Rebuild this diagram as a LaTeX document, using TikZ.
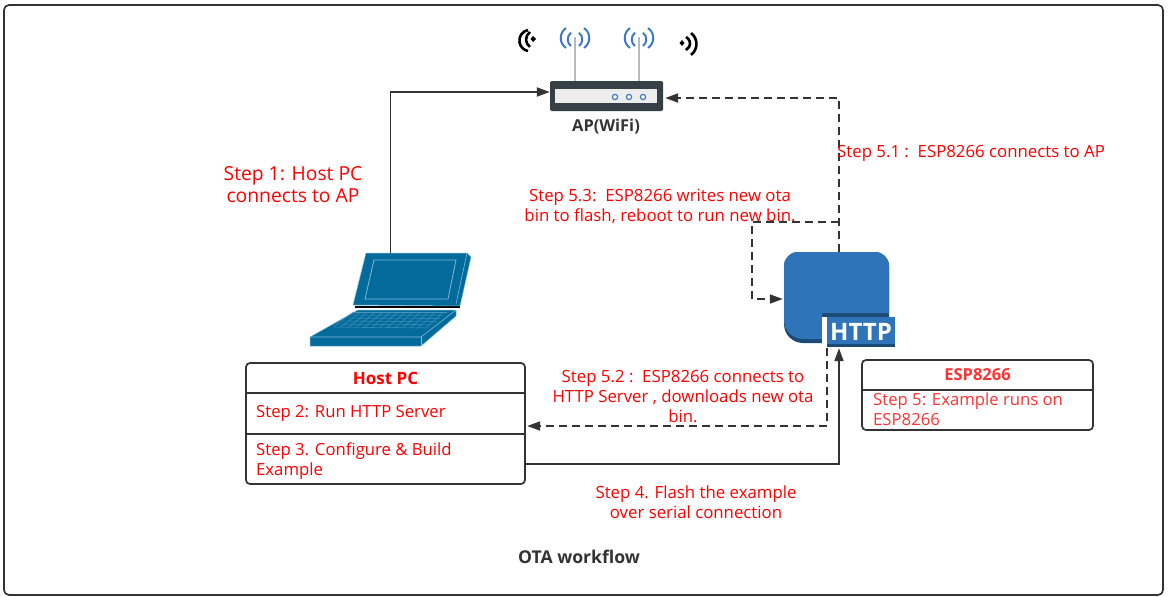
\documentclass[tikz,border=0pt]{standalone}
\usepackage{fontspec}
\setmainfont{Open Sans}
\usetikzlibrary{positioning, calc, arrows.meta}

\definecolor{linegray}{HTML}{333333}
\definecolor{laptopblue}{HTML}{036A9C}
\definecolor{laptopline}{HTML}{7FBBD6}
\definecolor{espblue}{HTML}{2F73B8}
\definecolor{espdark}{HTML}{1A4A75}
\definecolor{routerdark}{HTML}{353F45}
\definecolor{routerlight}{HTML}{ECECEC}
\definecolor{wifiblue}{HTML}{3F78C4}
\definecolor{softred}{HTML}{FF3333}

\tikzset{
  flow/.style={draw=linegray, line width=1.8pt, -{Triangle[length=13pt,width=9pt]}},
  dashflow/.style={flow, dash pattern=on 8pt off 5pt},
  stepnote/.style={text=red, font=\fontsize{16.8}{20}\selectfont, align=center, inner sep=0pt},
  rowtext/.style={text=red, font=\fontsize{16.7}{20}\selectfont, align=left, inner sep=0pt, anchor=west},
  outerbox/.style={draw=linegray, line width=1.7pt, rounded corners=4pt, inner sep=0pt},
  rowbox/.style={inner sep=0pt},
  divider/.style={draw=linegray, line width=1.7pt},
  wave/.style={line width=2pt, wifiblue},
  blackwave/.style={line width=2.6pt, black}
}

\begin{document}
\begin{tikzpicture}[x=1pt,y=-1pt]
\useasboundingbox (0,0) rectangle (1170,597);
\fill[white] (0,0) rectangle (1170,597);
\draw[linegray, line width=1.7pt, rounded corners=5pt] (4,5) rectangle (1163,595);

% laptop
\node (laptop) at (390.5,299.5) [minimum width=161pt, minimum height=93pt, inner sep=0pt] {};
\draw[black, line width=1.2pt] (355,307) -- (460,307);
\fill[laptopblue, draw=laptopline, line width=0.5pt] (366,253) -- (467,253) -- (471,257) -- (460,306) -- (353,305) -- cycle;
\draw[laptopline, line width=0.8pt] (374,260) -- (456,260) -- (448,299) -- (365,299) -- cycle;
\draw[laptopline, line width=0.6pt] (467,253) -- (456,304);
\fill[laptopblue, draw=laptopline, line width=0.5pt] (358,310) -- (456,310) -- (456,316) -- (421,346) -- (310,346) -- (310,337) -- cycle;
\draw[laptopline, line width=0.6pt] (310,337) -- (421,337) -- (456,310);
\draw[laptopline, line width=0.6pt] (421,337) -- (421,346);
\coordinate (keyA) at (333,327);
\coordinate (keyB) at (430,328);
\coordinate (keyC) at (447,312);
\coordinate (keyD) at (353,312);
\foreach \t in {0,0.2,0.4,0.6,0.8,1}
  \draw[laptopline!55!laptopblue, line width=0.4pt] ($(keyA)!\t!(keyD)$) -- ($(keyB)!\t!(keyC)$);
\foreach \t in {0,0.08,...,1.01}
  \draw[laptopline!55!laptopblue, line width=0.4pt] ($(keyA)!\t!(keyB)$) -- ($(keyD)!\t!(keyC)$);

% router
\draw[gray!55, line width=1.8pt] (575,37) -- (575,81);
\draw[gray!55, line width=1.8pt] (639,37) -- (639,81);
\node (router) at (606.5,96) [fill=routerdark, rounded corners=1.5pt, minimum width=113pt, minimum height=30pt, inner sep=0pt] {};
\fill[routerlight] (555,89) rectangle (657,103);
\foreach \cx in {615,629,643}
  \draw[wifiblue, line width=1.2pt, fill=white] (\cx,97) circle (2.6pt);
\foreach \ax in {575,639} {
  \draw[wave] (\ax-4,32.7) arc (127:233:8.3pt);
  \draw[wave] (\ax-9,28) arc (124:236:12pt);
  \draw[wave] (\ax+4,32.7) arc (53:-53:8.3pt);
  \draw[wave] (\ax+9,28) arc (56:-56:12pt);
}
\fill[black] (533,36) -- (536,39) -- (533,42) -- (530.5,39) -- cycle;
\draw[blackwave] (530,32) arc (124:236:9pt);
\draw[blackwave] (528,30) arc (101:259:10.7pt);
\fill[black] (682,40) -- (684.5,43) -- (682,46) -- (679.5,43) -- cycle;
\draw[blackwave] (686,37) arc (63:-63:7.3pt);
\draw[blackwave] (691,33) arc (53:-53:13.7pt);
\node (aplabel) at (606,127) [text=linegray, font=\fontsize{16.4}{18}\selectfont\bfseries, inner sep=0pt] {AP(WiFi)};

% esp8266 icon
\node (esp) at (836.5,297.5) [minimum width=105pt, minimum height=91pt, inner sep=0pt] {};
\fill[espdark] (784,266) arc (180:90:14pt) -- (875,252) arc (90:0:14pt) -- (889,318) -- (822,318) -- (822,343) -- (803,343) arc (270:180:19pt) -- cycle;
\fill[espblue] (784,266) arc (180:90:14pt) -- (875,252) arc (90:0:14pt) -- (889,313) -- (822,313) -- (822,339) -- (803,339) arc (270:180:19pt) -- cycle;
\fill[white] (822,317) rectangle (827,343);
\node (http) at (861,332) [fill=espblue, minimum width=68pt, minimum height=30pt, inner sep=0pt, text=white, font=\fontsize{24}{25}\selectfont\bfseries] {HTTP};
\fill[espdark] (827,344) rectangle (895,347);

% host pc box
\node (hostbox) at (385.5,423.5) [outerbox, minimum width=279pt, minimum height=121pt] {};
\node (hostpc) at (385.5,378) [rowbox, minimum width=279pt, minimum height=30pt, text=red, font=\fontsize{17}{20}\selectfont\bfseries] {Host PC};
\node (hostrun) at (385.5,413.5) [rowbox, minimum width=279pt, minimum height=41pt] {};
\node (hostbuild) at (385.5,459) [rowbox, minimum width=279pt, minimum height=50pt] {};
\draw[divider] (hostrun.north west) -- (hostrun.north east);
\draw[divider] (hostbuild.north west) -- (hostbuild.north east);
\node at (256,413) [rowtext] {Step 2: Run HTTP Server};
\node at (256,461) [rowtext] {Step 3. Configure \& Build\\Example};

% esp8266 box
\node (espbox) at (977.5,395) [outerbox, minimum width=231pt, minimum height=70pt] {};
\node (espname) at (977.5,375) [rowbox, minimum width=231pt, minimum height=30pt, text=softred, font=\fontsize{16.5}{20}\selectfont\bfseries] {ESP8266};
\node (esprun) at (977.5,410) [rowbox, minimum width=231pt, minimum height=40pt] {};
\draw[divider] (esprun.north west) -- (esprun.north east);
\node at (873,409) [rowtext, text=softred] {Step 5: Example runs on\\ESP8266};

% connectors
\coordinate (splitpt) at (839,222);
\coordinate (bendpt) at (752,222);
\draw[flow] (laptop.north) |- ([yshift=4pt]router.west);
\draw[dashflow] ([xshift=2.5pt]esp.north) |- ([yshift=-2pt,xshift=2pt]router.east);
\draw[dashflow] (splitpt) -- (bendpt) |- ([yshift=-1.5pt,xshift=-1pt]esp.west);
\draw[dashflow] ([yshift=-1pt]http.south west) |- ([yshift=-12.5pt,xshift=2pt]hostrun.east);
\draw[flow] ([yshift=-5pt]hostbuild.east) -| ([xshift=-22pt,yshift=-1pt]http.south);

% labels
\node (stepone) at (293,185) [stepnote, font=\fontsize{19.3}{22}\selectfont] {Step 1: Host PC\\connects to AP};
\node (stepfive) at (837,153.5) [stepnote, anchor=west] {Step 5.1 :\ \ ESP8266 connects to AP};
\node (stepfivethree) at (660,206) [stepnote] {Step 5.3:\ \ ESP8266 writes new ota\\bin to flash, reboot to run new bin.};
\node (stepfivetwo) at (683,396.5) [stepnote] {Step 5.2 :\ \ ESP8266 connects to\\HTTP Server , downloads new ota\\bin.};
\node (stepfour) at (696,502.5) [stepnote] {Step 4. Flash the example\\over serial connection};
\node (title) at (579,556.5) [text=linegray, font=\fontsize{17.6}{20}\selectfont\bfseries, inner sep=0pt] {OTA workflow};
\end{tikzpicture}
\end{document}
